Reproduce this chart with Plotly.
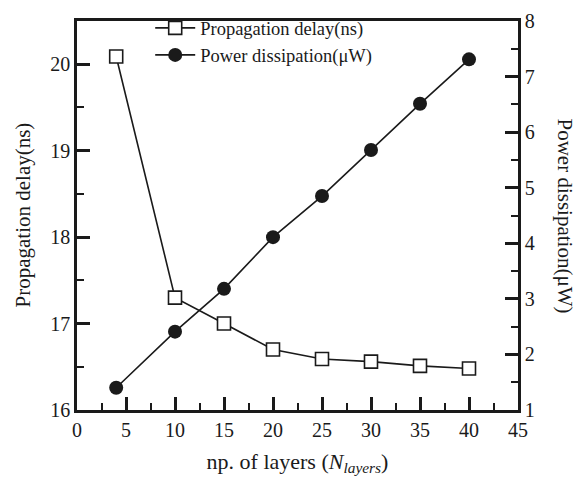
import plotly.graph_objects as go

# Number of layers
layers = [4, 10, 15, 20, 25, 30, 35, 40]
# Propagation delay (ns)
delay_ns = [20.09, 17.30, 17.00, 16.70, 16.59, 16.56, 16.51, 16.48]
# Power dissipation (uW)
power_uw = [1.40, 2.41, 3.18, 4.11, 4.85, 5.68, 6.51, 7.31]

x_ticks = [0, 5, 10, 15, 20, 25, 30, 35, 40, 45]
left_ticks = [16, 17, 18, 19, 20]
right_ticks = [1, 2, 3, 4, 5, 6, 7, 8]

FONT = "Liberation Serif, Times New Roman, serif"
INK = "#1a1a1a"

fig = go.Figure()
fig.add_trace(go.Scatter(
    x=layers, y=delay_ns, name="Propagation delay(ns)",
    mode="lines+markers",
    line=dict(color=INK, width=1.6),
    marker=dict(symbol="square", size=13, color="white",
                line=dict(color=INK, width=1.6)),
    yaxis="y",
))
fig.add_trace(go.Scatter(
    x=layers, y=power_uw, name="Power dissipation(\u03bcW)",
    mode="lines+markers",
    line=dict(color=INK, width=1.6),
    marker=dict(symbol="circle", size=14, color=INK),
    yaxis="y2",
))

axis_common = dict(
    showgrid=False, zeroline=False, showline=True, linecolor=INK,
    linewidth=2.5, ticks="inside", ticklen=13, tickwidth=2.5,
    tickcolor=INK, tickfont=dict(family=FONT, size=20, color=INK),
)

fig.update_layout(
    width=576, height=483,
    margin=dict(l=77, r=58, t=9, b=73),
    paper_bgcolor="white", plot_bgcolor="white",
    font=dict(family=FONT, color=INK),
    xaxis=dict(
        range=[0, 45], tickvals=x_ticks, mirror=True,
        minor=dict(dtick=2.5, ticks="inside", ticklen=7, tickwidth=2, tickcolor=INK),
        title=dict(text="np. of layers (<i>N</i><sub><i>layers</i></sub>)",
                   font=dict(family=FONT, size=22, color=INK), standoff=14),
        **axis_common,
    ),
    yaxis=dict(
        range=[16, 20.5], tickvals=left_ticks,
        minor=dict(dtick=0.5, ticks="inside", ticklen=7, tickwidth=2, tickcolor=INK),
        **axis_common,
    ),
    yaxis2=dict(
        range=[1, 8], tickvals=right_ticks, overlaying="y", side="right",
        minor=dict(dtick=0.5, ticks="inside", ticklen=7, tickwidth=2, tickcolor=INK),
        **axis_common,
    ),
    legend=dict(
        x=0.166, y=1.03, xanchor="left", yanchor="top",
        bgcolor="rgba(0,0,0,0)", borderwidth=0,
        font=dict(family=FONT, size=18.5, color=INK),
        itemwidth=40, tracegroupgap=0,
    ),
    showlegend=True,
)

# Left axis title (bottom to top)
fig.add_annotation(
    text="Propagation delay(ns)", textangle=-90,
    xref="paper", yref="paper", x=0.0, y=0.5, xshift=-55,
    showarrow=False, xanchor="center", yanchor="middle",
    font=dict(family=FONT, size=21, color=INK),
)
# Right axis title (top to bottom)
fig.add_annotation(
    text="Power dissipation(\u03bcW)", textangle=90,
    xref="paper", yref="paper", x=1.0, y=0.5, xshift=47,
    showarrow=False, xanchor="center", yanchor="middle",
    font=dict(family=FONT, size=21, color=INK),
)

fig.write_html("out.html")
